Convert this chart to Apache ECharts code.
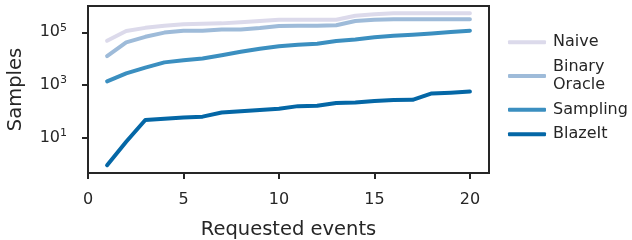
<!DOCTYPE html>
<html>
<head>
<meta charset="utf-8">
<script src="https://cdn.jsdelivr.net/npm/echarts@6/dist/echarts.min.js"></script>
<style>
  html, body { margin: 0; padding: 0; background: #fff; }
  #chart { width: 632px; height: 240px; }
</style>
</head>
<body>
<div id="chart"></div>
<script>
'use strict';

// requested events (x)
var events = [1, 2, 3, 4, 5, 6, 7, 8, 9, 10, 11, 12, 13, 14, 15, 16, 17, 18, 19, 20];

// samples needed
var naive = [48000, 112000, 148000, 178000, 204000, 214000, 219000, 240000, 269000, 302000,
             302000, 302000, 302000, 427000, 490000, 525000, 525000, 525000, 525000, 525000];
var binaryOracle = [12600, 41700, 67600, 97700, 115000, 115000, 129000, 129000, 145000, 174000,
                    178000, 178000, 186000, 269000, 302000, 316000, 316000, 316000, 316000, 316000];
var sampling = [1380, 2750, 4570, 7240, 8710, 10200, 13500, 18200, 24000, 29500,
                33900, 37200, 46800, 53700, 64600, 74100, 81300, 91200, 102000, 115000];
var blazeIt = [0.9, 7, 47, 52, 59, 63, 91, 102, 112, 126,
               158, 162, 209, 219, 245, 269, 275, 479, 513, 562];

var seriesNames = ['Naive', 'Binary Oracle', 'Sampling', 'BlazeIt'];
var xTicks = [0, 5, 10, 15, 20];
var yTicks = [10, 1000, 100000];

var colors = ['#dcdaeb', '#9ebbd9', '#3b8fc0', '#0467a6'];
var ink = '#262626';

function pairs(ys) {
	return ys.map(function(v, i) { return [events[i], v]; });
}

var myChart = echarts.init(document.getElementById('chart'));

var allData = [naive, binaryOracle, sampling, blazeIt];
var series = [];
for (let k = 0; k < seriesNames.length; k++) {
	series.push({
		name: seriesNames[k],
		type: 'line',
		data: pairs(allData[k]),
		showSymbol: false,
		symbol: 'none',
		lineStyle: { color: colors[k], width: 4, cap: 'round', join: 'round' },
		itemStyle: { color: colors[k] },
		z: 2 + k
	});
}

var option = {
	animation: false,
	textStyle: { fontFamily: 'DejaVu Sans' },
	grid: {
		left: 88, right: 143, top: 6, bottom: 67,
		outerBoundsMode: 'none',
		show: true, borderColor: ink, borderWidth: 2, backgroundColor: 'transparent'
	},
	legend: {
		orient: 'vertical',
		left: 503,
		top: 28,
		icon: 'roundRect',
		itemWidth: 38,
		itemHeight: 4,
		itemGap: 6,
		data: seriesNames,
		formatter: function(name) {
			return name === 'Binary Oracle' ? 'Binary\nOracle' : name;
		},
		textStyle: { color: ink, fontSize: 16, lineHeight: 18.5, padding: [0, 0, 0, 2] }
	},
	xAxis: {
		type: 'value',
		min: 0,
		max: 21,
		name: 'Requested events',
		nameLocation: 'middle',
		nameGap: 47,
		nameTextStyle: { color: ink, fontSize: 19.5 },
		axisLine: { show: true, lineStyle: { color: ink, width: 2 } },
		axisTick: { show: true, length: 6, lineStyle: { color: ink, width: 2 }, customValues: xTicks },
		axisLabel: { color: ink, fontSize: 16, margin: 19, customValues: xTicks },
		splitLine: { show: false }
	},
	yAxis: {
		type: 'log',
		logBase: 10,
		min: 0.457,
		max: 1000000,
		name: 'Samples',
		nameLocation: 'middle',
		nameGap: 62,
		nameTextStyle: { color: ink, fontSize: 19.5 },
		axisLine: { show: true, lineStyle: { color: ink, width: 2 } },
		axisTick: { show: true, length: 6, lineStyle: { color: ink, width: 2 }, customValues: yTicks },
		axisLabel: {
			color: ink,
			margin: 21,
			customValues: yTicks,
			formatter: function(v) {
				var e = Math.round(Math.log10(v));
				return '{b|10}{s|' + e + '}';
			},
			rich: {
				b: { fontSize: 16, lineHeight: 20, color: ink },
				s: { fontSize: 11, lineHeight: 12, verticalAlign: 'top', color: ink }
			}
		},
		splitLine: { show: false }
	},
	series: series
};

myChart.setOption(option);
</script>
</body>
</html>
